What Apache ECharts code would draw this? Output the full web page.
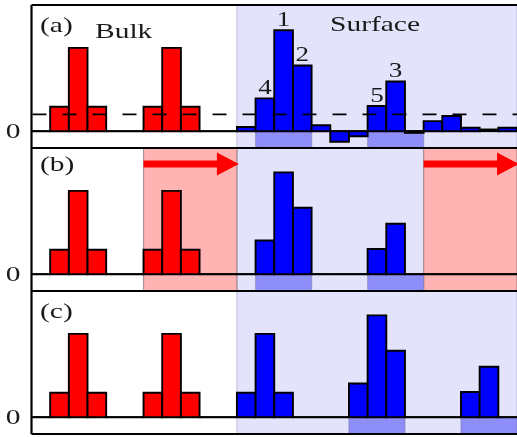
<!DOCTYPE html>
<html>
<head>
<meta charset="utf-8">
<script src="https://cdn.jsdelivr.net/npm/echarts@6/dist/echarts.min.js"></script>
<style>
  html, body { margin: 0; padding: 0; background: #ffffff; }
  #chart { width: 517px; height: 437px; }
</style>
</head>
<body>
<div id="chart"></div>
<script>
// Occupation per lattice site (site index = position in the array)
const siteCount = 26;
const surfaceStart = 11;
const panelA = [0, 0.29, 0.99, 0.29, 0, 0, 0.29, 0.99, 0.29, 0, 0,
                0.05, 0.39, 1.20, 0.78, 0.07, -0.125, -0.06, 0.30, 0.59, -0.02,
                0.12, 0.18, 0.04, 0.02, 0.04];
const panelB = [0, 0.29, 0.99, 0.29, 0, 0, 0.29, 0.99, 0.29, 0, 0,
                0, 0.40, 1.21, 0.79, 0, 0, 0, 0.30, 0.60, 0,
                0, 0, 0, 0, 0];
const panelC = [0, 0.29, 0.99, 0.29, 0, 0, 0.29, 0.99, 0.29, 0, 0,
                0.29, 0.99, 0.29, 0, 0, 0, 0.40, 1.21, 0.79, 0,
                0, 0, 0.30, 0.60, 0];

// Panel tags and region titles
const panelTags = ['(a)', '(b)', '(c)'];
const regionTitles = ['Bulk', 'Surface'];

// Shaded site spans
const stripsA = [[12, 15], [18, 21]];
const stripsB = [[12, 15], [18, 21]];
const stripsC = [[17, 20], [23, 26]];
const redZonesB = [[6, 11], [21, 26]];
const arrowSpansB = [[6, 11], [21, 26]];
const arrowLevel = 1.31;
const dashedLevelA = 0.2;

// Numbered peaks in panel (a)
const peakSites = [13, 14, 19, 12, 18];
const peakTexts = ['1', '2', '3', '4', '5'];

// y tick labels
const yTickValues = [0];
const yTickLabels = ['0'];

const Y_MIN = -0.2, Y_MAX = 1.5;
const SX = 1.34;                    // horizontal stretch of the serif lettering
const FONT = '22px "Liberation Serif", "DejaVu Serif", serif';
const INK = '#1a1a1a';
const PANEL_TOPS = [5, 148, 291];
const PANEL_H = 143;

const chart = echarts.init(document.getElementById('chart'), null, { renderer: 'canvas' });

function textStyle(txt, align) {
  return { text: txt, font: FONT, fill: INK,
           align: align, verticalAlign: 'middle', textAlign: align, textVerticalAlign: 'middle' };
}

function spanSeries(k, spans, fill, yLow, yHigh, edge, z) {
  return {
    type: 'custom', xAxisIndex: k, yAxisIndex: k, z: z, silent: true,
    data: spans.map(s => [s[0], s[1]]),
    renderItem: function (params, api) {
      const a = api.coord([api.value(0), yHigh]);
      const b = api.coord([api.value(1), yLow]);
      const children = [{
        type: 'rect',
        shape: { x: a[0], y: a[1], width: b[0] - a[0], height: b[1] - a[1] },
        style: { fill: fill }
      }];
      if (edge) {
        children.push({ type: 'line', shape: { x1: a[0], y1: a[1], x2: a[0], y2: b[1] },
                        style: { stroke: edge, lineWidth: 1.2 } });
        children.push({ type: 'line', shape: { x1: b[0], y1: a[1], x2: b[0], y2: b[1] },
                        style: { stroke: edge, lineWidth: 1.2 } });
      }
      return { type: 'group', children: children };
    }
  };
}

function barSeries(k, values) {
  return {
    type: 'custom', xAxisIndex: k, yAxisIndex: k, z: 5, silent: true,
    data: values.map((v, i) => [i, v]),
    renderItem: function (params, api) {
      const i = api.value(0), v = api.value(1);
      const p0 = api.coord([i, 0]);
      const p1 = api.coord([i + 1, v]);
      return {
        type: 'rect',
        shape: { x: p0[0], y: Math.min(p0[1], p1[1]), width: p1[0] - p0[0], height: Math.abs(p1[1] - p0[1]) },
        style: { fill: i < surfaceStart ? '#ff0000' : '#0000ff', stroke: '#000000', lineWidth: 1.9 }
      };
    }
  };
}

function zeroLineSeries(k) {
  return {
    type: 'custom', xAxisIndex: k, yAxisIndex: k, z: 4, silent: true,
    data: [[0, siteCount]],
    renderItem: function (params, api) {
      const a = api.coord([api.value(0), 0]);
      const b = api.coord([api.value(1), 0]);
      return { type: 'line', shape: { x1: a[0], y1: a[1], x2: b[0], y2: b[1] },
               style: { stroke: '#000000', lineWidth: 1.8 } };
    }
  };
}

function frameSeries(k) {
  return {
    type: 'custom', xAxisIndex: k, yAxisIndex: k, z: 9, silent: true,
    data: yTickValues.map((v, i) => [0, v, i]),
    renderItem: function (params, api) {
      const cs = params.coordSys;
      const t = api.coord([0, api.value(1)]);
      const label = yTickLabels[api.value(2)];
      return {
        type: 'group',
        children: [
          { type: 'line', shape: { x1: cs.x, y1: cs.y, x2: cs.x, y2: cs.y + cs.height }, style: { stroke: '#000', lineWidth: 2.2 } },
          { type: 'line', shape: { x1: cs.x, y1: cs.y, x2: cs.x + cs.width, y2: cs.y }, style: { stroke: '#000', lineWidth: 2.2 } },
          { type: 'line', shape: { x1: cs.x, y1: cs.y + cs.height, x2: cs.x + cs.width, y2: cs.y + cs.height }, style: { stroke: '#000', lineWidth: 2.2 } },
          { type: 'text', x: cs.x - 11, y: t[1] + 1, scaleX: SX, style: textStyle(label, 'right') }
        ]
      };
    }
  };
}

const series = [];
const allValues = [panelA, panelB, panelC];
const allStrips = [stripsA, stripsB, stripsC];
for (let k = 0; k < 3; k++) {
  series.push(spanSeries(k, [[surfaceStart, siteCount]], '#e3e3fb', Y_MIN, Y_MAX, 'rgba(150,150,190,0.45)', 1));
  if (k === 1) series.push(spanSeries(k, redZonesB, '#ffb3b3', Y_MIN, Y_MAX, 'rgba(110,80,90,0.55)', 2));
  series.push(spanSeries(k, allStrips[k], '#8e8efa', Y_MIN, 0, 'rgba(120,120,170,0.5)', 3));
  series.push(zeroLineSeries(k));
  series.push(barSeries(k, allValues[k]));
  series.push(frameSeries(k));
}

// dashed reference level in panel (a)
series.push({
  type: 'custom', xAxisIndex: 0, yAxisIndex: 0, z: 6, silent: true,
  data: [[0, dashedLevelA], [siteCount, dashedLevelA]],
  renderItem: function (params, api) {
    if (params.dataIndex !== 0) return null;
    const a = api.coord([0, dashedLevelA]);
    const b = api.coord([siteCount, dashedLevelA]);
    return { type: 'line', shape: { x1: a[0] + 1, y1: a[1], x2: b[0], y2: b[1] },
             style: { stroke: '#000000', lineWidth: 1.8, lineDash: [14, 16] } };
  }
});

// numbered peaks in panel (a)
series.push({
  type: 'custom', xAxisIndex: 0, yAxisIndex: 0, z: 7, silent: true,
  data: peakSites.map((s, i) => [s, panelA[s], i]),
  renderItem: function (params, api) {
    const s = api.value(0);
    const p = api.coord([s + 0.5, api.value(1)]);
    return { type: 'text', x: p[0], y: p[1] - 10, scaleX: SX * 0.92,
             style: textStyle(peakTexts[api.value(2)], 'center') };
  }
});

// shift arrows in panel (b)
series.push({
  type: 'custom', xAxisIndex: 1, yAxisIndex: 1, z: 7, silent: true,
  data: arrowSpansB.map(s => [s[0], s[1]]),
  renderItem: function (params, api) {
    const a = api.coord([api.value(0), arrowLevel]);
    const b = api.coord([api.value(1), arrowLevel]);
    const x0 = a[0], x1 = b[0] + 2, y = a[1];
    const hl = 22, hw = 11.5, sw = 3.6;
    return {
      type: 'polygon',
      shape: { points: [[x0, y - sw], [x1 - hl, y - sw], [x1 - hl, y - hw], [x1, y],
                        [x1 - hl, y + hw], [x1 - hl, y + sw], [x0, y + sw]] },
      style: { fill: '#ff0000' }
    };
  }
});

const grids = [], xAxes = [], yAxes = [];
for (let k = 0; k < 3; k++) {
  grids.push({ left: 31.5, top: PANEL_TOPS[k], width: siteCount * 18.85, height: PANEL_H,
               show: true, backgroundColor: '#ffffff', borderWidth: 0 });
  xAxes.push({ type: 'value', gridIndex: k, min: 0, max: siteCount, show: false });
  yAxes.push({ type: 'value', gridIndex: k, min: Y_MIN, max: Y_MAX, show: false });
}

const texts = [
  { t: panelTags[0], x: 40, y: 26 },
  { t: regionTitles[0], x: 95, y: 32 },
  { t: regionTitles[1], x: 330, y: 25 },
  { t: panelTags[1], x: 40, y: 165 },
  { t: panelTags[2], x: 40, y: 312 }
];

chart.setOption({
  animation: false,
  backgroundColor: '#ffffff',
  grid: grids,
  xAxis: xAxes,
  yAxis: yAxes,
  series: series,
  graphic: texts.map(o => ({
    type: 'text', x: o.x, y: o.y, scaleX: SX, z: 20, silent: true,
    style: textStyle(o.t, 'left')
  }))
});
</script>
</body>
</html>
